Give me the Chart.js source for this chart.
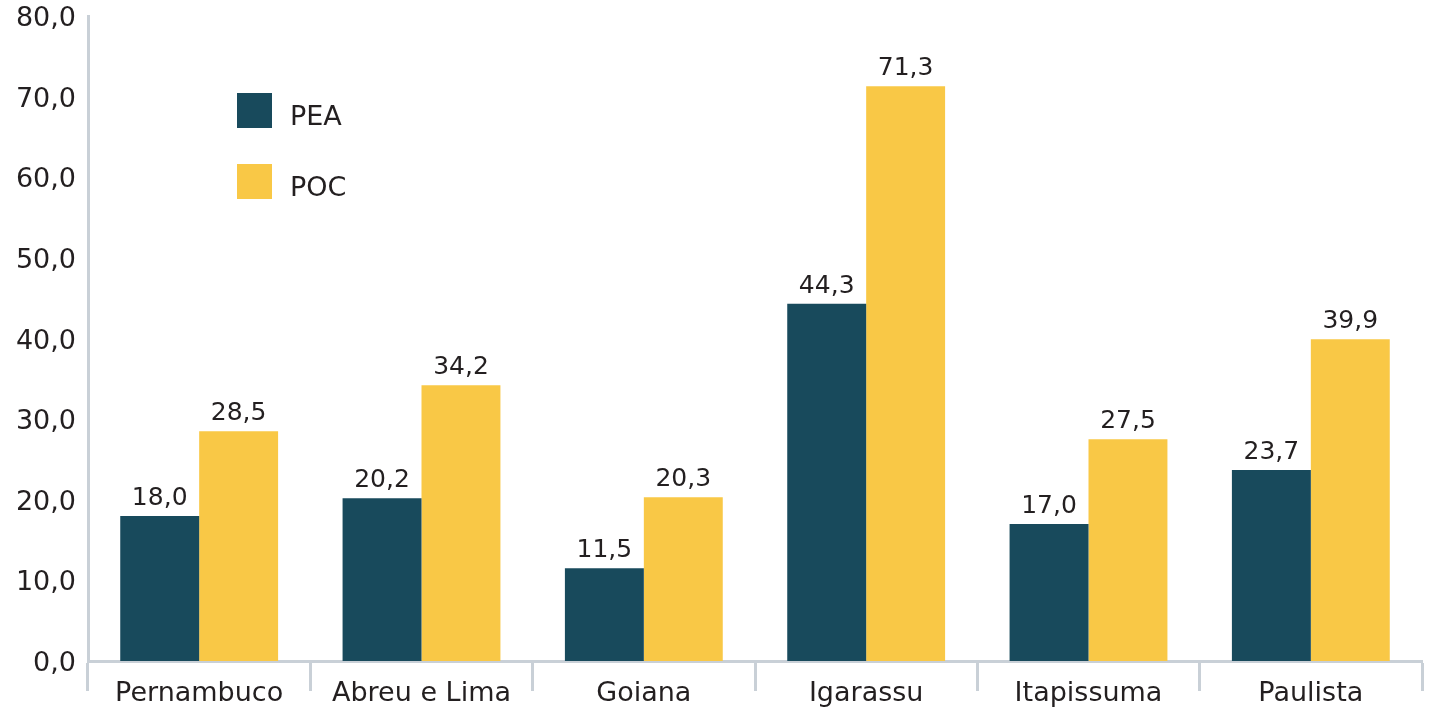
<!DOCTYPE html>
<html>
<head>
<meta charset="utf-8">
<script src="https://cdn.jsdelivr.net/npm/chart.js@4"></script>
<style>
    html, body { margin: 0; padding: 0; background: #ffffff; }
    #wrap { width: 1431px; height: 711px; }
</style>
</head>
<body>
<div id="wrap"><canvas id="barChart" width="1431" height="711"></canvas></div>
<script>
const municipios = ['Pernambuco', 'Abreu e Lima', 'Goiana', 'Igarassu', 'Itapissuma', 'Paulista'];
const valoresPEA = [18.0, 20.2, 11.5, 44.3, 17.0, 23.7];
const valoresPOC = [28.5, 34.2, 20.3, 71.3, 27.5, 39.9];
const nomesSeries = ['PEA', 'POC'];

const corPEA = '#184a5c';
const corPOC = '#f9c846';
const corEixo = '#c9d0d7';
const corTexto = '#231f20';
const fonte = '"DejaVu Sans", "Noto Sans", sans-serif';

function formatar(v) {
    return v.toFixed(1).replace('.', ',');
}

// Rótulos em cima das barras
const rotulosPlugin = {
    id: 'rotulos',
    afterDatasetsDraw(chart) {
        const ctx = chart.ctx;
        ctx.save();
        ctx.font = '25px ' + fonte;
        ctx.fillStyle = corTexto;
        ctx.textAlign = 'center';
        ctx.textBaseline = 'bottom';
        chart.data.datasets.forEach((ds, i) => {
            chart.getDatasetMeta(i).data.forEach((bar, j) => {
                ctx.fillText(formatar(ds.data[j]), bar.x, bar.y - 5);
            });
        });
        ctx.restore();
    }
};

// Legenda desenhada dentro da área do gráfico
const legendaPlugin = {
    id: 'legenda',
    afterDraw(chart) {
        const ctx = chart.ctx;
        ctx.save();
        ctx.font = '27px ' + fonte;
        ctx.textBaseline = 'middle';
        ctx.textAlign = 'left';
        chart.data.datasets.forEach((ds, i) => {
            const y = 93 + i * 71;
            ctx.fillStyle = ds.backgroundColor;
            ctx.fillRect(237, y, 35, 35);
            ctx.fillStyle = corTexto;
            ctx.fillText(ds.label, 290, y + 25);
        });
        ctx.restore();
    }
};

new Chart(document.getElementById('barChart').getContext('2d'), {
    type: 'bar',
    data: {
        labels: municipios,
        datasets: [
            { label: nomesSeries[0], data: valoresPEA, backgroundColor: corPEA },
            { label: nomesSeries[1], data: valoresPOC, backgroundColor: corPOC }
        ]
    },
    options: {
        responsive: false,
        animation: false,
        devicePixelRatio: 1,
        categoryPercentage: 0.71,
        barPercentage: 1.0,
        layout: { padding: { top: 16, right: 9, left: 0, bottom: 0 } },
        plugins: {
            legend: { display: false },
            tooltip: { enabled: false }
        },
        scales: {
            x: {
                grid: {
                    display: true,
                    offset: true,
                    drawOnChartArea: false,
                    drawTicks: true,
                    tickLength: 30,
                    tickWidth: 3,
                    color: corEixo
                },
                border: { display: true, color: corEixo, width: 3 },
                ticks: {
                    color: corTexto,
                    font: { family: fonte, size: 27 },
                    padding: -13,
                    maxRotation: 0
                },
                afterFit(scale) {
                    scale.height = 50;
                    scale.paddingLeft = 0;
                    scale.paddingRight = 0;
                }
            },
            y: {
                min: 0,
                max: 80,
                grid: { display: false, drawTicks: false },
                border: { display: true, color: corEixo, width: 3 },
                ticks: {
                    stepSize: 10,
                    color: corTexto,
                    font: { family: fonte, size: 27 },
                    padding: 12,
                    labelOffset: 3,
                    callback: v => formatar(v)
                },
                afterFit(scale) {
                    scale.width = 88;
                    scale.paddingTop = 0;
                    scale.paddingBottom = 0;
                }
            }
        }
    },
    plugins: [rotulosPlugin, legendaPlugin]
});
</script>
</body>
</html>
